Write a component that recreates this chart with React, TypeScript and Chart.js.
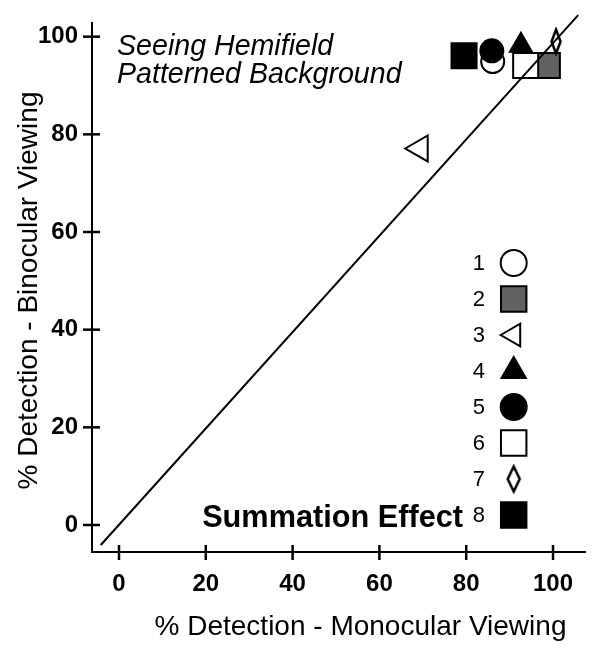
import React, { useEffect, useRef } from 'react';
import { Chart, registerables, PointElement } from 'chart.js';

Chart.register(...registerables);

// ---- data ----
const seriesLabels = ['1', '2', '3', '4', '5', '6', '7', '8'];
const monocularPct = [86.1, 98.7, 69.4, 92.6, 85.9, 93.7, 100.7, 79.5];
const binocularPct = [94.9, 94.1, 77.1, 98.2, 97.1, 94.1, 99.0, 96.1];
const tickValues = [0, 20, 40, 60, 80, 100];
const unityLineX = [-4.2, 105.8];
const unityLineY = [-4.1, 104.4];
const xRange = [-6.22, 107.37];
const yRange = [-5.53, 102.8];
const xTitle = '% Detection - Monocular Viewing';
const yTitle = '% Detection - Binocular Viewing';
const noteLines = ['Seeing Hemifield', 'Patterned Background'];
const effectLabel = 'Summation Effect';

const FONT = "'Liberation Sans', Arial, Helvetica, sans-serif";
const GRAY = '#616161';

function makeDiamond(w: number, h: number, lw: number): HTMLCanvasElement {
  const c = document.createElement('canvas');
  c.width = w;
  c.height = h;
  const g = c.getContext('2d')!;
  g.beginPath();
  g.moveTo(w / 2, lw);
  g.lineTo(w - lw, h / 2);
  g.lineTo(w / 2, h - lw);
  g.lineTo(lw, h / 2);
  g.closePath();
  g.fillStyle = '#fff';
  g.fill();
  g.lineWidth = lw;
  g.strokeStyle = '#000';
  g.lineJoin = 'miter';
  g.stroke();
  return c;
}

export default function App() {
  const ref = useRef<HTMLCanvasElement | null>(null);

  useEffect(() => {
    const canvas = ref.current;
    if (!canvas) return;
    const plotDiamond = makeDiamond(14, 29, 2.5);
    const legendDiamond = makeDiamond(17, 30, 2.5);

    // per-series marker styles (plot, legend)
    const styles: any[] = [
      { pointStyle: 'circle', bg: '#fff', r: 11.5, lr: 13, rot: 0 },
      { pointStyle: 'rect', bg: GRAY, r: 17.7, lr: 18, rot: 0 },
      { pointStyle: 'triangle', bg: '#fff', r: 15, lr: 13, rot: -90 },
      { pointStyle: 'triangle', bg: '#000', r: 12.7, lr: 14, rot: 0 },
      { pointStyle: 'circle', bg: '#000', r: 11.5, lr: 13, rot: 0 },
      { pointStyle: 'rect', bg: '#fff', r: 17.7, lr: 18, rot: 0 },
      { pointStyle: plotDiamond, legendStyle: legendDiamond, bg: '#fff', r: 14, lr: 15, rot: 0 },
      { pointStyle: 'rect', bg: '#000', r: 17.7, lr: 18, rot: 0 },
    ];
    const drawOrder = [8, 7, 6, 5, 3, 2, 1, 4];

    const datasets: any[] = seriesLabels.map((lab, i) => ({
      label: lab,
      data: [{ x: monocularPct[i], y: binocularPct[i] }],
      pointStyle: styles[i].pointStyle,
      pointRadius: styles[i].r,
      pointRotation: styles[i].rot,
      pointBackgroundColor: styles[i].bg,
      pointBorderColor: '#000',
      pointBorderWidth: 2,
      order: drawOrder[i],
      clip: false,
    }));
    datasets.push({
      label: 'unity',
      data: unityLineX.map((x, i) => ({ x, y: unityLineY[i] })),
      showLine: true,
      borderColor: '#000',
      borderWidth: 2,
      pointRadius: 0,
      order: 0,
      clip: false,
    });

    const overlay = {
      id: 'overlay',
      afterDraw(chart: any) {
        const ctx = chart.ctx as CanvasRenderingContext2D;
        const xs = chart.scales.x;
        const ys = chart.scales.y;
        const area = chart.chartArea;
        ctx.save();
        // tick marks crossing the axes
        ctx.strokeStyle = '#000';
        ctx.lineWidth = 2.5;
        tickValues.forEach((v) => {
          const px = xs.getPixelForValue(v);
          ctx.beginPath();
          ctx.moveTo(px, area.bottom - 7);
          ctx.lineTo(px, area.bottom + 8);
          ctx.stroke();
          const py = ys.getPixelForValue(v);
          ctx.beginPath();
          ctx.moveTo(area.left - 9, py);
          ctx.lineTo(area.left + 8, py);
          ctx.stroke();
        });
        ctx.fillStyle = '#000';
        // axis titles
        ctx.font = `28px ${FONT}`;
        ctx.textAlign = 'center';
        ctx.textBaseline = 'alphabetic';
        ctx.fillText(xTitle, area.left + 268.5, 627);
        ctx.save();
        ctx.translate(28.7, area.top + 267.5);
        ctx.rotate(-Math.PI / 2);
        ctx.fillText(yTitle, 0, 0);
        ctx.restore();
        // italic note
        ctx.font = `italic 28.6px ${FONT}`;
        ctx.textAlign = 'left';
        noteLines.forEach((t, i) => ctx.fillText(t, area.left + 25, 47 + i * 28));
        // legend
        const lx = 505.7;
        const ly0 = 255;
        const step = 36;
        ctx.font = `22px ${FONT}`;
        ctx.textAlign = 'right';
        ctx.textBaseline = 'middle';
        seriesLabels.forEach((lab, i) => {
          const yy = ly0 + i * step;
          ctx.fillStyle = '#000';
          ctx.fillText(lab, 477, yy + 1);
          const pt: any = new PointElement({});
          pt.x = lx;
          pt.y = yy;
          pt.options = {
            pointStyle: styles[i].legendStyle || styles[i].pointStyle,
            radius: styles[i].lr,
            rotation: styles[i].rot,
            backgroundColor: styles[i].bg,
            borderColor: '#000',
            borderWidth: 2,
            hitRadius: 0,
          };
          pt.draw(ctx, { left: 0, top: 0, right: chart.width, bottom: chart.height });
        });
        ctx.fillStyle = '#000';
        ctx.font = `bold 30.7px ${FONT}`;
        ctx.textAlign = 'right';
        ctx.textBaseline = 'alphabetic';
        ctx.fillText(effectLabel, 455, 519);
        ctx.restore();
      },
    };

    const tickFont = { family: FONT, size: 24, weight: 'bold' as const };
    const chart = new Chart(canvas, {
      type: 'scatter',
      data: { datasets },
      options: {
        animation: false,
        responsive: false,
        events: [],
        layout: { autoPadding: false, padding: { top: 15, right: 8, left: 0, bottom: 0 } },
        plugins: { legend: { display: false }, tooltip: { enabled: false } },
        scales: {
          x: {
            type: 'linear',
            min: xRange[0],
            max: xRange[1],
            afterFit: (s: any) => {
              s.height = 95;
              s.paddingLeft = 0;
              s.paddingRight = 0;
            },
            afterBuildTicks: (s: any) => {
              s.ticks = tickValues.map((v) => ({ value: v }));
            },
            grid: { display: false, drawTicks: false },
            border: { display: true, color: '#000', width: 2 },
            ticks: { font: tickFont, color: '#000', padding: 18, maxRotation: 0, autoSkip: false },
          },
          y: {
            type: 'linear',
            min: yRange[0],
            max: yRange[1],
            afterFit: (s: any) => {
              s.width = 84;
              s.paddingTop = 0;
              s.paddingBottom = 0;
            },
            afterBuildTicks: (s: any) => {
              s.ticks = tickValues.map((v) => ({ value: v }));
            },
            grid: { display: false, drawTicks: false },
            border: { display: true, color: '#000', width: 2 },
            ticks: { font: tickFont, color: '#000', padding: 14, autoSkip: false },
          },
        },
      },
      plugins: [overlay],
    });
    return () => chart.destroy();
  }, []);

  return (
    <div style={{ width: 585, height: 639 }}>
      <canvas ref={ref} width={585} height={639} style={{ display: 'block' }} />
    </div>
  );
}
